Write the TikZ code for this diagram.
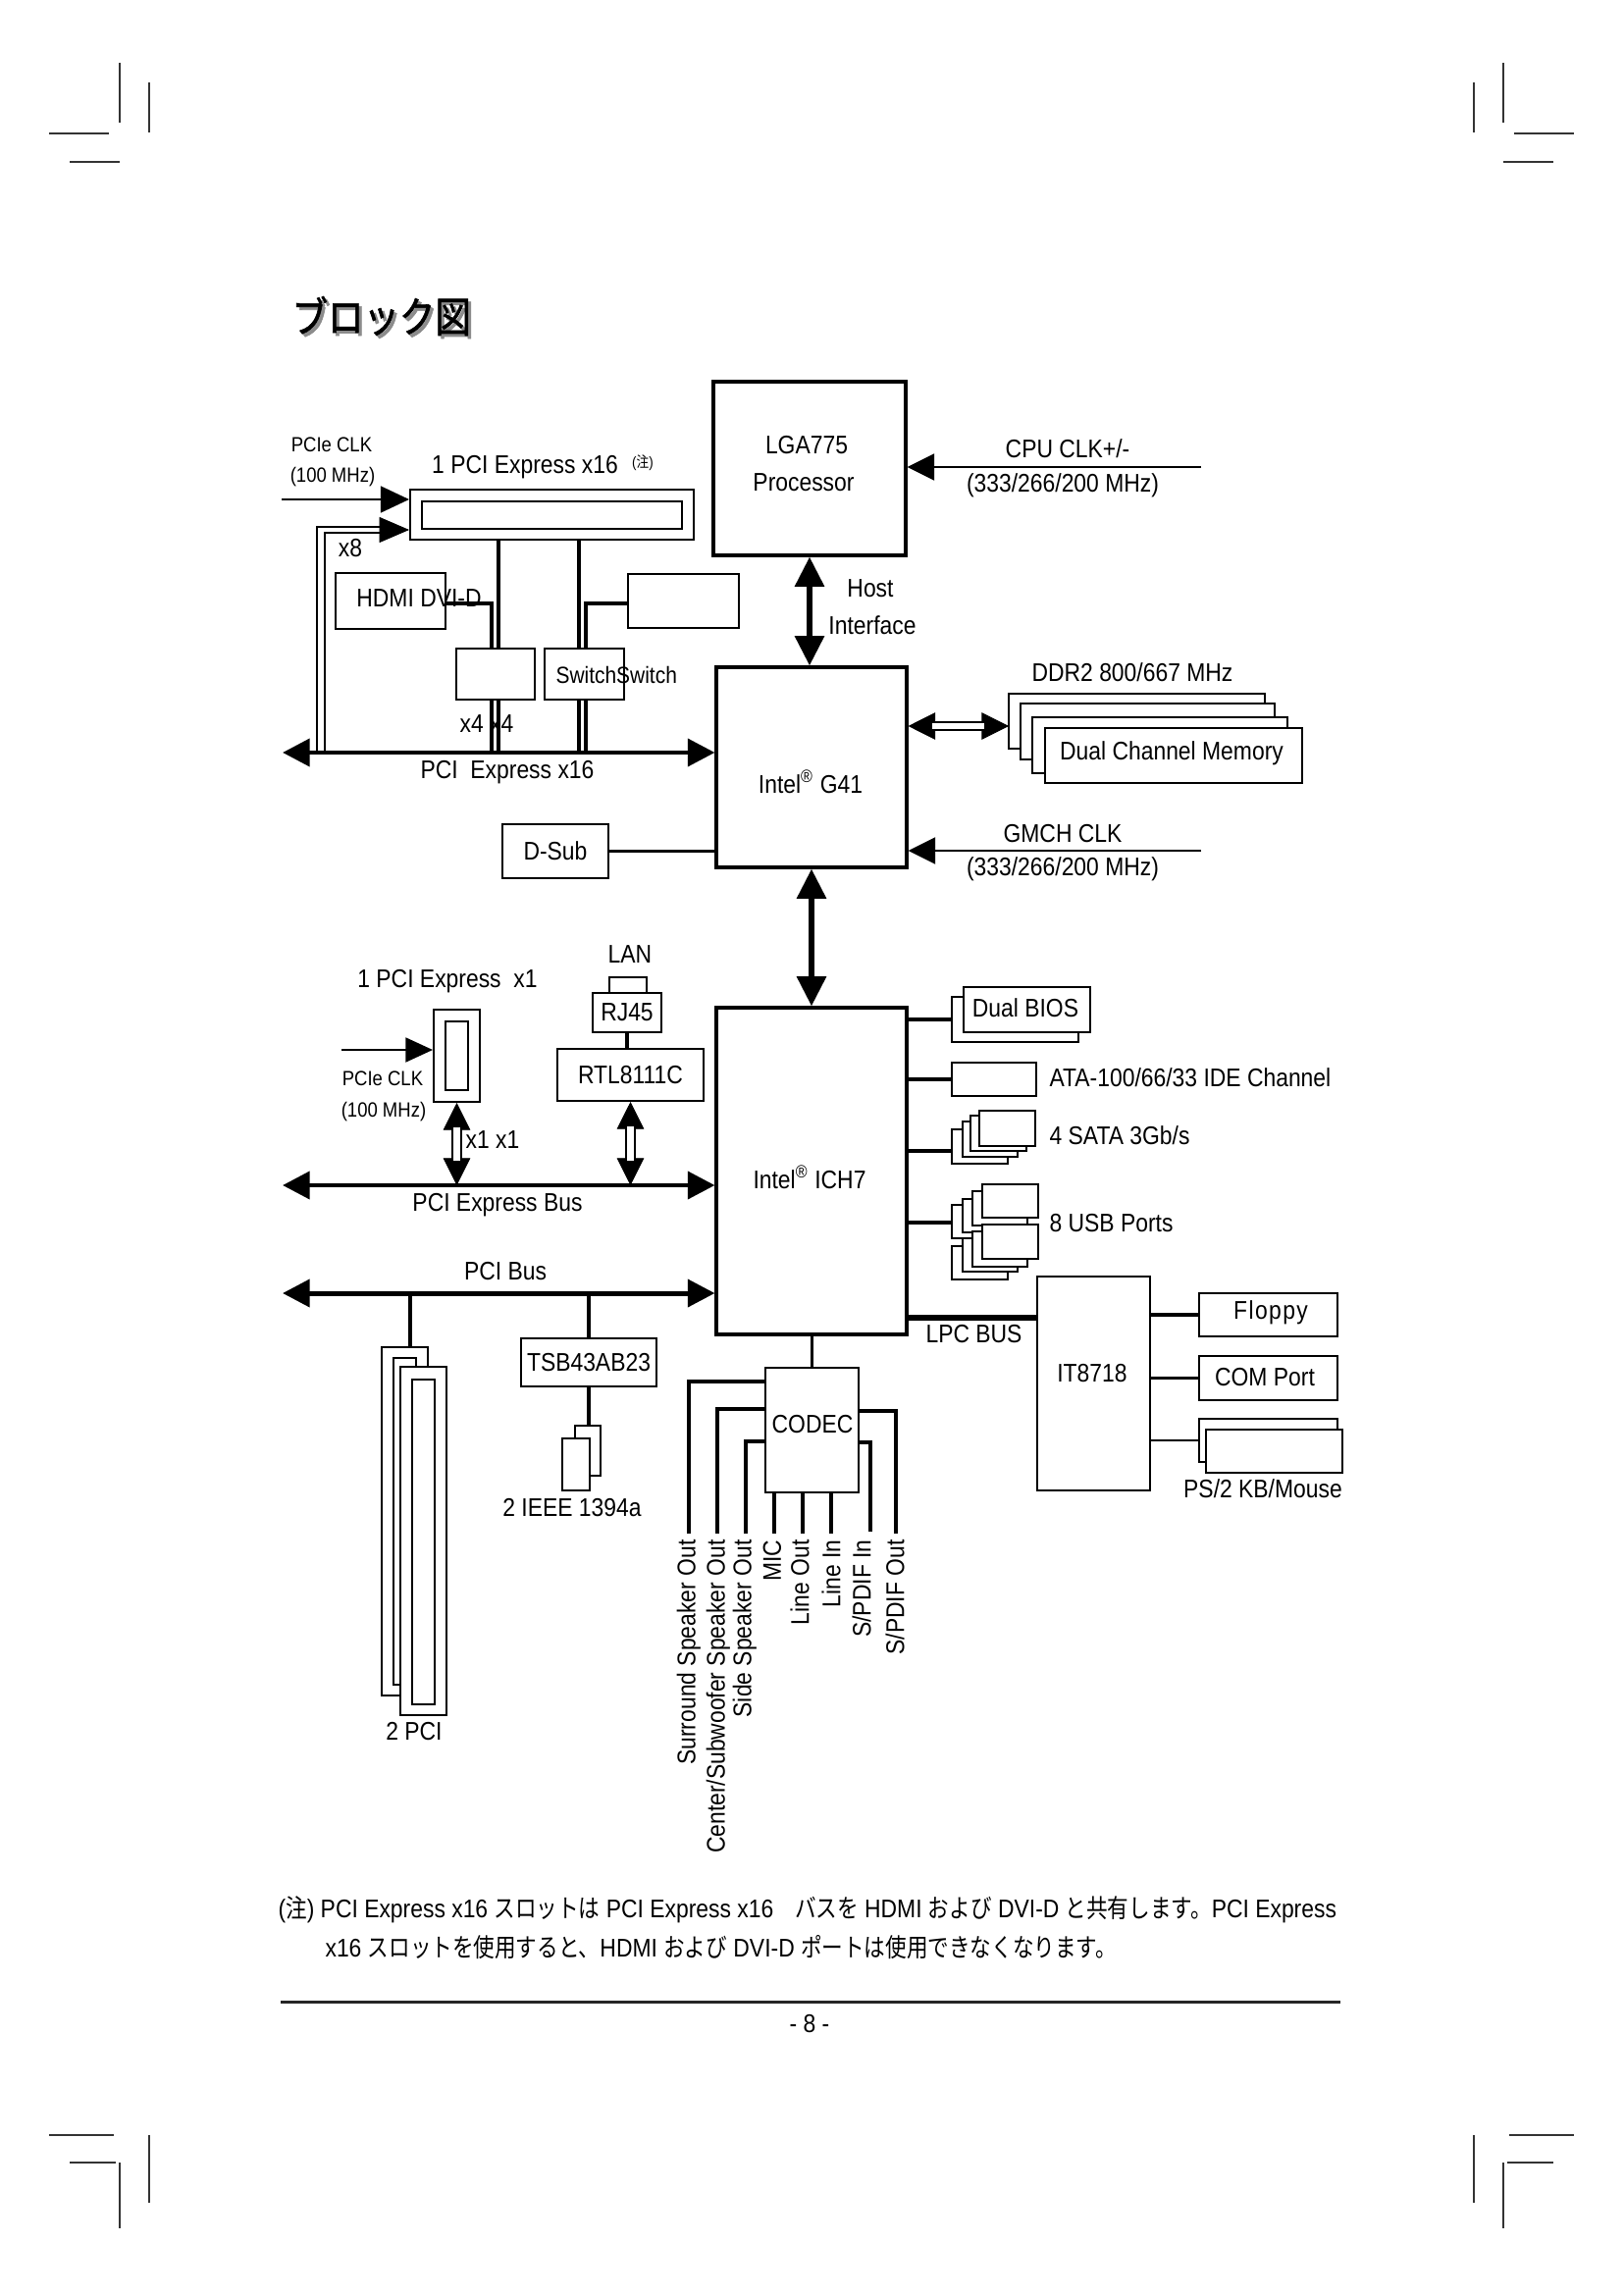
\documentclass[tikz,border=0pt]{standalone}
\usepackage{fontspec}
\setmainfont{Liberation Sans}[FakeStretch=0.88]
\newfontfamily\cjk[FakeStretch=0.83]{Noto Sans CJK JP}
\newfontfamily\cjkt[FakeBold=1.5,FakeStretch=0.85]{Noto Sans CJK JP}
\newcommand\jp[1]{{\cjk #1}}
\newcommand\lab{\fontsize{9.4pt}{13.7pt}\selectfont}
\newcommand\smlab{\fontsize{7.6pt}{9pt}\selectfont}
\usetikzlibrary{fit,arrows.meta}
\tikzset{
  box/.style={draw, line width=0.72pt, inner sep=0pt, fill=white},
  chip/.style={draw, line width=1.1pt, inner sep=0pt, fill=white},
  conn/.style={line width=1.1pt},
  thinc/.style={line width=0.72pt},
  lpc/.style={line width=2.2pt},
  lab/.style={font=\lab, inner sep=0pt},
  smalllab/.style={font=\smlab, inner sep=0pt},
  vlab/.style={font=\lab, inner sep=0pt, rotate=90, anchor=east},
  crop/.style={line width=0.7pt, black!80},
  busarrow/.style={line width=1.8pt, {Triangle[length=10pt,width=10pt]}-{Triangle[length=10pt,width=10pt]}},
  clkarrow/.style={line width=1.0pt, -{Triangle[length=10pt,width=9.7pt]}},
  hostarrow/.style={line width=2.2pt, {Triangle[length=11pt,width=10.5pt]}-{Triangle[length=11pt,width=10.5pt]}},
  tiparrow/.style={line width=0.3pt, {Triangle[length=10pt,width=10pt]}-{Triangle[length=10pt,width=10pt]}},
  dblline/.style={double, double distance=2.2pt, line width=0.72pt, shorten <=9pt, shorten >=9pt},
}
\begin{document}
\begin{tikzpicture}[x=0.127mm, y=-0.127mm]
\fill[white] (0,0) rectangle (1654,2339);
\useasboundingbox (0,0) rectangle (1654,2339);

% crop marks
\draw[crop] (122,64) -- (122,125);
\draw[crop] (152,84) -- (152,135);
\draw[crop] (50,136) -- (111,136);
\draw[crop] (71,165) -- (122,165);
\draw[crop] (1532,64) -- (1532,125);
\draw[crop] (1502,84) -- (1502,135);
\draw[crop] (1543,136) -- (1604,136);
\draw[crop] (1532,165) -- (1583,165);
\draw[crop] (122,2204) -- (122,2271);
\draw[crop] (152,2176) -- (152,2245);
\draw[crop] (50,2176) -- (116,2176);
\draw[crop] (71,2204) -- (118,2204);
\draw[crop] (1532,2204) -- (1532,2271);
\draw[crop] (1502,2176) -- (1502,2245);
\draw[crop] (1538,2176) -- (1604,2176);
\draw[crop] (1536,2204) -- (1583,2204);

% title
\node[anchor=west, inner sep=0pt, text=black!45, font={\cjkt\fontsize{15.5pt}{17pt}\selectfont}] (titleshadow) at (300,325) {ブロック図};
\node[anchor=west, inner sep=0pt, font={\cjkt\fontsize{15.5pt}{17pt}\selectfont}] (title) at (297,322) {ブロック図};

% ---------- main chips ----------
\node[chip, fit={(727,389) (923,566)}] (cpu) {};
\node[lab] (cput1) at (822,454) {LGA775};
\node[lab] (cput2) at (819,492) {Processor};
\node[chip, fit={(730,680) (924,884)}] (g41) {};
\node[lab] (g41t) at (826,797) {Intel\textsuperscript{®} G41};
\node[chip, fit={(730,1027) (924,1360)}] (ich7) {};
\node[lab] (ich7t) at (825,1200) {Intel\textsuperscript{®} ICH7};

% CPU clock
\coordinate (cpuclk) at (1224,476);
\draw[clkarrow] (cpuclk) -- (cpu.east |- cpuclk);
\node[lab] (cpuclkt) at (1088,457) {CPU CLK+/-};
\node[lab] (cpuclkf) at (1083,495) {(333/266/200 MHz)};

% host interface
\draw[hostarrow] (cpu.south) -- (cpu.south |- g41.north);
\node[lab] (hostt) at (887,600) {Host};
\node[lab] (hostt2) at (889,637) {Interface};

% memory
\node[box, fit={(1028,707) (1289,763)}] (mem1) {};
\node[box, fit={(1040,717) (1299,774)}] (mem2) {};
\node[box, fit={(1052,731) (1312,788)}] (mem3) {};
\node[box, fit={(1065,742) (1327,798)}] (mem4) {};
\node[lab] (mem4t) at (1194,768) {Dual Channel Memory};
\node[lab] (ddr) at (1154,685) {DDR2 800/667 MHz};
\coordinate (memc) at (1028,740);
\draw[tiparrow] (g41.east |- memc) -- (memc);
\draw[dblline] (g41.east |- memc) -- (memc);

% GMCH clock
\coordinate (gmchclk) at (1224,867);
\draw[clkarrow] (gmchclk) -- (g41.east |- gmchclk);
\node[lab] (gmcht) at (1083,850) {GMCH CLK};
\node[lab] (gmchf) at (1083,886) {(333/266/200 MHz)};

% D-Sub
\node[box, fit={(512,840) (620,895)}] (dsub) {};
\node[lab] (dsubt) at (dsub.center) {D-Sub};
\draw[conn] (dsub.east) -- (g41.west |- dsub.east);

% G41 - ICH7
\draw[hostarrow] (g41.south) -- (g41.south |- ich7.north);

% ---------- PCIe x16 area ----------
\node[box, fit={(418,499) (707,550)}] (slot16) {};
\node[box, fit={(430,511) (695,539)}] (slot16in) {};
\node[lab] (slot16t) at (535,476) {1 PCI Express x16};
\node[inner sep=0pt, font={\fontsize{5.5pt}{6pt}\selectfont}] (note1) at (655,472) {(\jp{注})};
\node[smalllab] (clk16a) at (338,453) {PCIe CLK};
\node[smalllab] (clk16b) at (339,486) {(100 MHz)};
\coordinate (clk16) at (287,509);
\draw[line width=0.8pt, -{Triangle[length=10.5pt,width=9.7pt]}] (clk16) -- (slot16.west |- clk16);

\coordinate (busA) at (288,767);
\draw[busarrow] (busA) -- (g41.west |- busA);
\node[lab] (busAt) at (517,787) {PCI\ \ Express x16};

% x8 double path
\coordinate (x8o) at (323,537);
\coordinate (x8i) at (331,543);
\coordinate (x8h) at (388,540);
\draw[thinc] (x8o |- busA) -- (x8o) -- (x8o -| x8h);
\draw[thinc] (x8i |- busA) -- (x8i) -- (x8i -| x8h);
\draw[line width=0.3pt, -{Triangle[length=11pt,width=9.4pt]}] (x8h) -- (slot16.west |- x8h);
\node[lab] (x8t) at (357,559) {x8};

% HDMI / DVI-D and switches
\node[box, fit={(342,584) (454,641)}] (hdmi) {};
\node[box, fit={(640,585) (753,640)}] (dvi) {};
\node[box, fit={(465,661) (545,713)}] (sw1) {};
\node[box, fit={(555,661) (636,713)}] (sw2) {};
\node[lab] (hdmit) at (427,610) {HDMI DVI-D};
\node[inner sep=0pt, font={\fontsize{8.6pt}{10pt}\selectfont}, anchor=west] (swt) at (566,688) {SwitchSwitch};
\coordinate (h1) at (501,615);
\coordinate (s1) at (508,550);
\coordinate (s2) at (590,550);
\coordinate (h2) at (597,615);
\draw[conn] (hdmi.east |- h1) -- (h1) -- (h1 |- sw1.north);
\draw[conn] (s1) -- (s1 |- sw1.north);
\draw[conn] (h1 |- sw1.south) -- (h1 |- busA);
\draw[conn] (s1 |- sw1.south) -- (s1 |- busA);
\draw[conn] (s2) -- (s2 |- sw2.north);
\draw[conn] (dvi.west |- h2) -- (h2) -- (h2 |- sw2.north);
\draw[conn] (s2 |- sw2.south) -- (s2 |- busA);
\draw[conn] (h2 |- sw2.south) -- (h2 |- busA);
\node[lab] (x4t) at (496,738) {x4 x4};

% ---------- PCIe x1 / LAN ----------
\coordinate (busB) at (288,1208);
\draw[busarrow] (busB) -- (ich7.west |- busB);
\node[lab] (busBt) at (507,1228) {PCI Express Bus};
\coordinate (busC) at (288,1318);
\draw[busarrow] (busC) -- (ich7.west |- busC);
\node[lab] (busCt) at (515,1296) {PCI Bus};

\node[lab] (slot1t) at (456,1000) {1 PCI Express\ \ x1};
\node[box, fit={(442,1029) (489,1123)}] (slot1) {};
\node[box, fit={(454,1041) (477,1111)}] (slot1in) {};
\coordinate (clk1) at (348,1070);
\draw[line width=0.8pt, -{Triangle[length=10pt,width=9pt]}] (clk1) -- (slot1.west |- clk1);
\node[smalllab] (clk1a) at (390,1099) {PCIe CLK};
\node[smalllab] (clk1b) at (391,1133) {(100 MHz)};
\draw[tiparrow] (slot1.south) -- (slot1.south |- busB);
\draw[dblline] (slot1.south) -- (slot1.south |- busB);
\node[lab] (x1t) at (502,1162) {x1 x1};

\node[lab] (lant) at (642,973) {LAN};
\node[box, fit={(621,996) (659,1012)}] (lanc) {};
\node[box, fit={(604,1012) (674,1052)}] (rj45) {};
\node[lab] (rj45t) at (rj45.center) {RJ45};
\node[box, fit={(568,1069) (717,1122)}] (rtl) {};
\node[lab] (rtlt) at (rtl.center) {RTL8111C};
\draw[conn] (rj45.south) -- (rj45.south |- rtl.north);
\draw[tiparrow] (rtl.south) -- (rtl.south |- busB);
\draw[dblline] (rtl.south) -- (rtl.south |- busB);

% ---------- PCI slots / 1394 ----------
\node[box, fit={(389,1373) (436,1728)}] (pciA) {};
\node[box, fit={(401,1384) (424,1717)}] (pciAin) {};
\node[box, fit={(408,1393) (455,1748)}] (pciB) {};
\node[box, fit={(420,1406) (443,1737)}] (pciBin) {};
\coordinate (pcidrop) at (418,1318);
\draw[conn] (pcidrop) -- (pcidrop |- pciA.north);
\node[lab] (pcit) at (422,1765) {2 PCI};

\node[box, fit={(531,1364) (669,1413)}] (tsb) {};
\node[lab] (tsbt) at (tsb.center) {TSB43AB23};
\draw[conn] (tsb.north |- busC) -- (tsb.north);
\node[box, fit={(586,1453) (612,1504)}] (ieeeA) {};
\node[box, fit={(573,1466) (601,1519)}] (ieeeB) {};
\draw[conn] (tsb.south) -- (tsb.south |- ieeeA.north);
\node[lab] (ieeet) at (583,1537) {2 IEEE 1394a};

% ---------- ICH7 right side ----------
\node[box, fit={(970,1016) (1099,1062)}] (biosA) {};
\node[box, fit={(982,1006) (1111,1052)}] (biosB) {};
\node[lab] (biost) at (1045,1027) {Dual BIOS};
\draw[conn] (biosA.west -| ich7.east) -- (biosA.west);

\node[box, fit={(970,1083) (1056,1117)}] (ata) {};
\draw[conn] (ata.west -| ich7.east) -- (ata.west);
\node[lab, anchor=west] (atat) at (1069,1098) {ATA-100/66/33 IDE Channel};

\node[box, fit={(970,1151) (1027,1186)}] (sa1) {};
\node[box, fit={(981,1143) (1037,1179)}] (sa2) {};
\node[box, fit={(989,1137) (1046,1173)}] (sa3) {};
\node[box, fit={(998,1132) (1055,1168)}] (sa4) {};
\coordinate (sataL) at (970,1173);
\draw[conn] (ich7.east |- sataL) -- (sataL);
\node[lab, anchor=west] (satat) at (1069,1157) {4 SATA 3Gb/s};

\node[box, fit={(970,1228) (1027,1262)}] (ua1) {};
\node[box, fit={(981,1222) (1037,1256)}] (ua2) {};
\node[box, fit={(991,1214) (1047,1249)}] (ua3) {};
\node[box, fit={(1001,1207) (1058,1241)}] (ua4) {};
\node[box, fit={(970,1270) (1027,1304)}] (ub1) {};
\node[box, fit={(981,1262) (1037,1296)}] (ub2) {};
\node[box, fit={(991,1255) (1047,1291)}] (ub3) {};
\node[box, fit={(1001,1248) (1058,1283)}] (ub4) {};
\coordinate (usbL) at (970,1246);
\draw[conn] (ich7.east |- usbL) -- (usbL);
\node[lab, anchor=west] (usbt) at (1069,1247) {8 USB Ports};

% LPC / IT8718
\node[box, fit={(1057,1301) (1172,1519)}] (it) {};
\node[lab] (itt) at (1113,1400) {IT8718};
\coordinate (lpcy) at (1000,1343);
\draw[lpc] (ich7.east |- lpcy) -- (it.west |- lpcy);
\node[lab, anchor=west] (lpct) at (943,1360) {LPC BUS};

\node[box, fit={(1222,1318) (1363,1362)}] (floppy) {};
\node[lab] (floppyt) at (1295,1338) {F\kern0.5pt l\kern0.5pt o\kern0.5pt p\kern0.5pt p\kern0.5pt y};
\node[box, fit={(1222,1382) (1363,1427)}] (com) {};
\node[lab] (comt) at (1289,1404) {COM Port};
\node[box, fit={(1222,1446) (1363,1490)}] (psA) {};
\node[box, fit={(1229,1457) (1368,1501)}] (psB) {};
\draw[conn] (it.east |- floppy.west) -- (floppy.west);
\draw[conn] (it.east |- com.west) -- (com.west);
\draw[thinc] (it.east |- psA.west) -- (psA.west);
\node[lab] (pst) at (1287,1517) {PS/2 KB/Mouse};

% ---------- CODEC ----------
\node[box, fit={(780,1394) (875,1521)}] (codec) {};
\node[lab] (codect) at (828,1452) {CODEC};
\draw[conn] (codec.north) -- (codec.north |- ich7.south);
\coordinate (aSur) at (702,1563);
\coordinate (aCen) at (731,1563);
\coordinate (aSide) at (760,1563);
\coordinate (aMic) at (789,1563);
\coordinate (aLout) at (818,1563);
\coordinate (aLin) at (847,1563);
\coordinate (aSpin) at (887,1561);
\coordinate (aSpout) at (913,1563);
\coordinate (bSur) at (780,1408);
\coordinate (bCen) at (780,1436);
\coordinate (bSide) at (780,1469);
\coordinate (bSpin) at (875,1470);
\coordinate (bSpout) at (875,1438);
\draw[conn] (codec.west |- bSur) -| (aSur);
\draw[conn] (codec.west |- bCen) -| (aCen);
\draw[conn] (codec.west |- bSide) -| (aSide);
\draw[conn] (aMic |- codec.south) -- (aMic);
\draw[conn] (aLout |- codec.south) -- (aLout);
\draw[conn] (aLin |- codec.south) -- (aLin);
\draw[conn] (codec.east |- bSpin) -| (aSpin);
\draw[conn] (codec.east |- bSpout) -| (aSpout);
\node[vlab] (tSur) at (702,1569) {Surround Speaker Out};
\node[vlab] (tCen) at (732,1569) {Center/Subwoofer Speaker Out};
\node[vlab] (tSide) at (759,1569) {Side Speaker Out};
\node[vlab] (tMic) at (787,1569) {MIC};
\node[vlab] (tLout) at (815,1569) {Line Out};
\node[vlab] (tLin) at (847,1569) {Line In};
\node[vlab] (tSpin) at (878,1569) {S/PDIF In};
\node[vlab] (tSpout) at (912,1569) {S/PDIF Out};

% ---------- footnote ----------
\node[lab, anchor=west] (fn1) at (283,1946) {(\jp{注}) PCI Express x16 \jp{スロットは} PCI Express x16\jp{　バスを} HDMI \jp{および} DVI-D \jp{と共有します。}PCI Express};
\node[lab, anchor=west] (fn2) at (331,1985) {x16 \jp{スロットを使用すると、}HDMI \jp{および} DVI-D \jp{ポートは使用できなくなります。}};
\coordinate (ruleL) at (286,2040);
\coordinate (ruleR) at (1366,2040);
\draw[line width=1.1pt, black!85] (ruleL) -- (ruleR);
\node[lab] (page) at (825,2063) {- 8 -};
\end{tikzpicture}
\end{document}
